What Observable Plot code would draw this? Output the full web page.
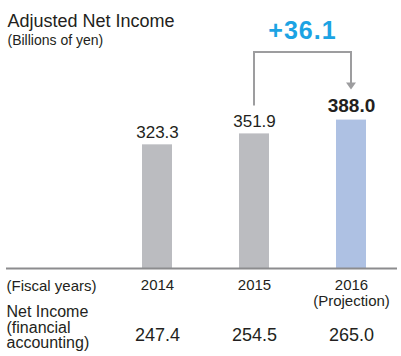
<!DOCTYPE html>
<html>
<head>
<meta charset="utf-8">
<script src="https://cdn.jsdelivr.net/npm/d3@7"></script>
<script src="https://cdn.jsdelivr.net/npm/@observablehq/plot@0.6"></script>
<style>
  html, body { margin: 0; padding: 0; background: #fff; }
  #chart svg { display: block; }
</style>
</head>
<body>
<div id="chart"></div>
<script>
const title = "Adjusted Net Income";
const subtitle = "(Billions of yen)";
const years = ["2014", "2015", "2016"];
const yearLabels = ["2014", "2015", "2016\n(Projection)"];
const adjusted = [323.3, 351.9, 388.0];
const isProjection = [false, false, true];
const netIncome = [247.4, 254.5, 265.0];
const rowLabels = ["(Fiscal years)", "Net Income\n(financial\naccounting)"];

const FONT = "'Liberation Sans', Arial, Helvetica, sans-serif";
const INK = "#231f20";

const rows = years.map((y, i) => ({
  year: y, label: yearLabels[i], value: adjusted[i], proj: isProjection[i], net: netIncome[i]
}));

const change = "+" + (adjusted[2] - adjusted[1]).toFixed(1);

function bracket(index, scales, values, dims) {
  const x = scales.x, y = scales.y;
  const bw = x.bandwidth ? x.bandwidth() : 0;
  const xa = x(years[1]) + bw / 2;
  const xb = x(years[2]) + bw / 2;
  const yStart = y(adjusted[1]) - 28;
  const yTop = dims.marginTop - 63;
  const yTip = y(adjusted[2]) - 30;
  const g = d3.create("svg:g");
  g.append("path")
    .attr("d", `M${xa},${yStart}V${yTop}H${xb}V${yTip - 6}`)
    .attr("fill", "none")
    .attr("stroke", "#9d9d9f")
    .attr("stroke-width", 2);
  g.append("path")
    .attr("d", `M${xb - 5},${yTip - 7}L${xb + 5},${yTip - 7}L${xb},${yTip}Z`)
    .attr("fill", "#9d9d9f");
  g.append("text")
    .attr("x", (xa + xb) / 2)
    .attr("y", yTop - 13)
    .attr("text-anchor", "middle")
    .attr("font-family", FONT)
    .attr("font-weight", "bold")
    .attr("font-size", 25)
    .attr("letter-spacing", 1)
    .attr("fill", "#1ca3e3")
    .text(change);
  return g.node();
}

const chart = Plot.plot({
  width: 401,
  height: 356,
  marginLeft: 6,
  marginRight: 4,
  marginTop: 115,
  marginBottom: 88,
  style: { fontFamily: FONT, background: "#fff", overflow: "visible" },
  x: { type: "band", domain: years, paddingInner: 0.692, paddingOuter: 0.851, align: 0.813, axis: null },
  y: { domain: [0, 400], axis: null },
  marks: [
    Plot.barY(rows, { x: "year", y: "value", fill: d => d.proj ? "#aec1e3" : "#bbbcc0" }),
    Plot.ruleY([0], { stroke: "#8c8c8e", strokeWidth: 2 }),
    Plot.text(rows.filter(d => !d.proj), {
      x: "year", y: "value", text: d => d.value.toFixed(1),
      lineAnchor: "bottom", dy: -7, fontSize: 17, fill: INK
    }),
    Plot.text(rows.filter(d => d.proj), {
      x: "year", y: "value", text: d => d.value.toFixed(1),
      lineAnchor: "bottom", dy: -8, fontSize: 19, fontWeight: "bold", fill: INK
    }),
    bracket,
    // title & subtitle
    Plot.text([title], {
      text: d => d, frameAnchor: "top-left", textAnchor: "start", lineAnchor: "bottom",
      dx: 1, dy: -88.5, fontSize: 18, fill: INK
    }),
    Plot.text([subtitle], {
      text: d => d, frameAnchor: "top-left", textAnchor: "start", lineAnchor: "bottom",
      dx: 1, dy: -71, fontSize: 14, fill: INK
    }),
    // fiscal years row
    Plot.text([rowLabels[0]], {
      text: d => d, frameAnchor: "bottom-left", textAnchor: "start", lineAnchor: "bottom",
      dx: 0, dy: 22, fontSize: 15, fill: INK
    }),
    Plot.text(rows, {
      x: "year", text: "label", frameAnchor: "bottom", lineAnchor: "top",
      dy: 10.8, fontSize: 15, lineHeight: 1.05, fill: INK
    }),
    // net income row
    Plot.text([rowLabels[1]], {
      text: d => d, frameAnchor: "bottom-left", textAnchor: "start", lineAnchor: "top",
      dx: 0, dy: 37.5, fontSize: 16, lineHeight: 0.97, fill: INK
    }),
    Plot.text(rows, {
      x: "year", text: d => d.net.toFixed(1), frameAnchor: "bottom", lineAnchor: "bottom",
      dy: 72, fontSize: 18, fill: INK
    })
  ]
});

document.getElementById("chart").appendChild(chart);
</script>
</body>
</html>
